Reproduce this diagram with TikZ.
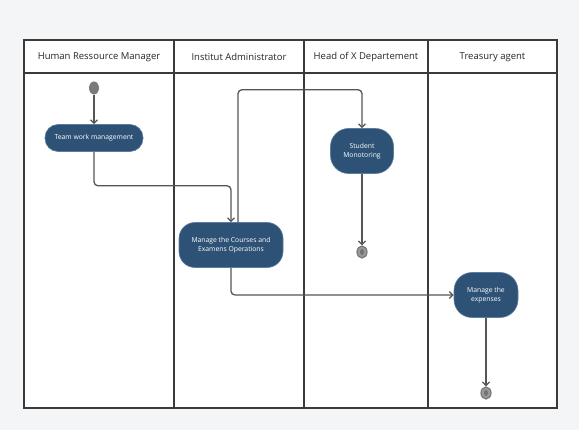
\documentclass[tikz,border=0pt]{standalone}
\usepackage{fontspec}
\setmainfont{Open Sans}
\usetikzlibrary{arrows.meta,shapes.geometric,calc}
\definecolor{bgc}{HTML}{F4F5F7}
\definecolor{framec}{HTML}{3A3A3A}
\definecolor{nodefill}{HTML}{2E5276}
\definecolor{nodeedge}{HTML}{5A7EA3}
\definecolor{linec}{HTML}{555555}
\definecolor{dotc}{HTML}{7A7A7A}
\tikzset{
  lane/.style={draw=framec, line width=1.2pt},
  header/.style={font=\fontsize{9.5}{11}\selectfont, text=black!85},
  act/.style={rectangle, rounded corners=16pt, fill=nodefill, draw=nodeedge, line width=0.6pt,
    text=white, font=\fontsize{6.8}{8.5}\selectfont, align=center, inner sep=2pt},
  conn/.style={draw=linec, line width=1.3pt, -{Straight Barb[length=3.5pt,width=7pt]}},
  startdot/.style={ellipse, fill=dotc, minimum width=10pt, minimum height=13pt, inner sep=0pt},
  enddot/.style={ellipse, fill=black!40, draw=dotc, line width=1.2pt, minimum width=10pt, minimum height=12pt, inner sep=0pt},
}
\begin{document}
\begin{tikzpicture}[x=1pt,y=-1pt]
\useasboundingbox (0,0) rectangle (579,430);
\fill[bgc] (0,0) rectangle (579,430);
\fill[white] (24,40) rectangle (557,408);
% swimlanes
\draw[lane] (24,40) rectangle (557,408);
\draw[lane] (24,73) -- (557,73);
\draw[lane] (174,40) -- (174,408);
\draw[lane] (304,40) -- (304,408);
\draw[lane] (428,40) -- (428,408);
\node[header] (h1) at (99,57) {Human Ressource Manager};
\node[header] (h2) at (239,57) {Institut Administrator};
\node[header] (h3) at (366,57) {Head of X Departement};
\node[header] (h4) at (492.5,57) {Treasury agent};
% nodes
\node[startdot] (start) at (94,88) {};
\node[act, rounded corners=13pt, minimum width=98pt, minimum height=27pt] (team) at (94,138) {Team work management};
\node[act, minimum width=104pt, minimum height=45pt] (courses) at (231,245) {Manage the Courses and\\Examens Operations};
\node[act, rounded corners=18pt, minimum width=63pt, minimum height=45pt] (student) at (362,151) {Student\\Monotoring};
\node[act, rounded corners=18pt, minimum width=64pt, minimum height=45pt] (expenses) at (486,295) {Manage the\\expenses};
\node[enddot] (end1) at (362,252) {};
\fill[black!55] (end1) ellipse (2pt and 3pt);
\node[enddot] (end2) at (486,393) {};
\fill[black!55] (end2) ellipse (2pt and 3pt);
% connectors
\draw[conn] (start) -- (team);
\draw[conn, rounded corners=4pt] (team.south) -- ++(0,34) -| (courses.north);
\draw[conn, rounded corners=4pt] ([xshift=7pt]courses.north) -- ++(0,-132.5) -| (student.north);
\draw[conn, rounded corners=4pt] (courses.south) |- (expenses.west);
\draw[conn] (student.south) -- (end1);
\draw[conn] (expenses.south) -- (end2);
\end{tikzpicture}
\end{document}
